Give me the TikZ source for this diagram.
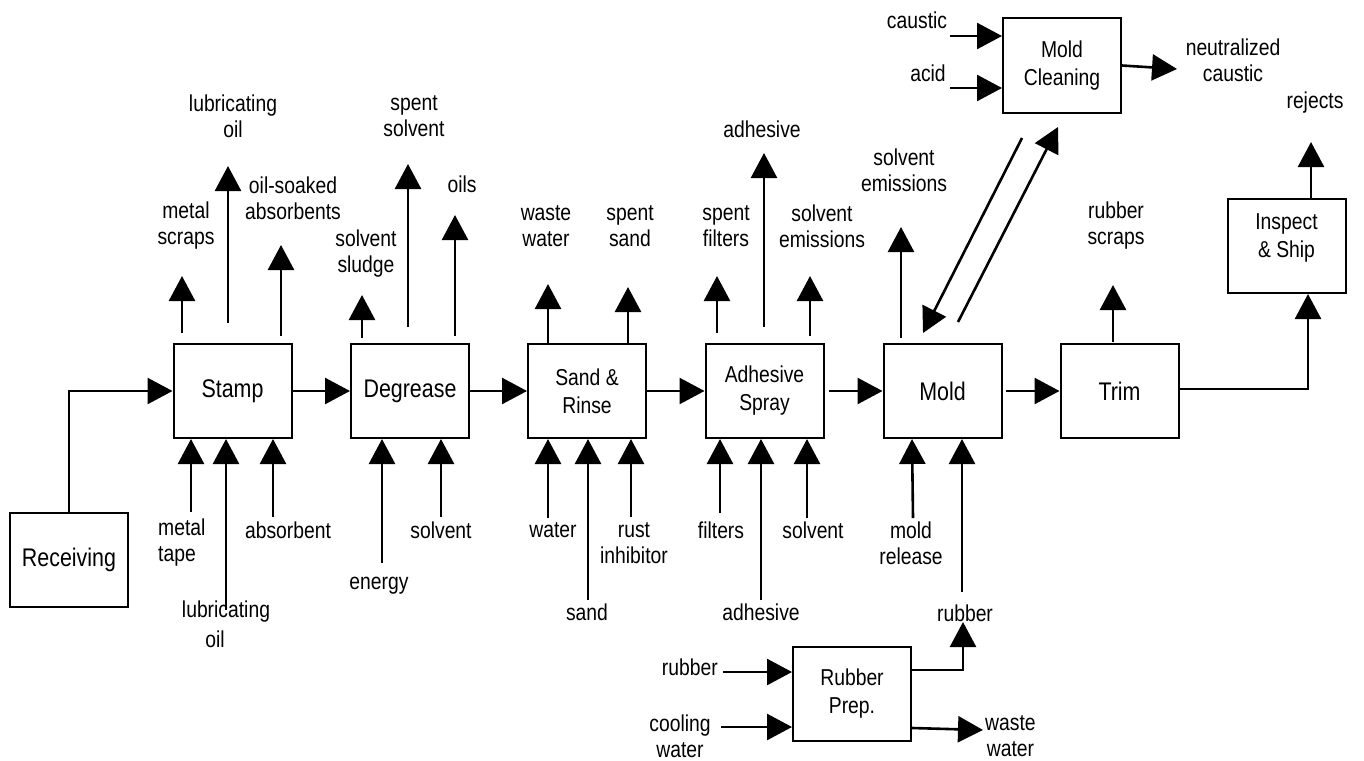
\documentclass[tikz,border=0pt]{standalone}
\usepackage{fontspec}
\setmainfont{Liberation Sans}[FakeStretch=0.84]
\usetikzlibrary{arrows.meta}
\tikzset{
  box/.style={draw, line width=2pt, minimum width=118pt, minimum height=94pt, inner sep=0pt, align=center},
  bigtxt/.style={font=\fontsize{25.5}{28}\selectfont},
  smalltxt/.style={font=\fontsize{23}{28}\selectfont},
  lab/.style={inner sep=0pt, align=center, font=\fontsize{23}{26}\selectfont},
  arr/.style={line width=2.6pt, -{Triangle[width=26pt,length=25pt]}},
  ln/.style={line width=2.6pt}
}
\begin{document}
\begin{tikzpicture}[x=1pt,y=-1pt]
\useasboundingbox (0,0) rectangle (1364,760);
% boxes
\node[box,bigtxt] (rec) at (69,560) {Receiving};
\node[box,bigtxt] (stamp) at (232.5,391) {Stamp};
\node[box,bigtxt] (deg) at (410,391) {Degrease};
\node[box,smalltxt] (sand) at (587,391) {Sand \&\\Rinse};
\node[box,smalltxt] (adh) at (764.5,391) {Adhesive\\Spray};
\node[box,bigtxt] (mold) at (942.5,391) {Mold};
\node[box,bigtxt] (trim) at (1119.5,391) {Trim};
\node[box,smalltxt] (mc) at (1062,65.5) {Mold\\Cleaning};
\node[box] (insp) at (1286.5,246) {};
\node[smalltxt, inner sep=0pt, align=center] (insptxt) at (1286.5,238) {Inspect\\\& Ship};
\node[box,smalltxt] (rp) at (852,694) {Rubber\\Prep.};
% top labels
\node[lab] (lm1) at (186,226) {metal\\scraps};
\node[lab] (lm2) at (233,116) {lubricating\\oil};
\node[lab] (lm3) at (293,198) {oil-soaked\\absorbents};
\node[lab] (ld1) at (366,254) {solvent\\sludge};
\node[lab] (ld2) at (414,116) {spent\\solvent};
\node[lab] (ld3) at (462,184) {oils};
\node[lab] (ls1) at (546,226) {waste\\water};
\node[lab] (ls2) at (630,226) {spent\\sand};
\node[lab] (la1) at (726,226) {spent\\filters};
\node[lab] (la2) at (762,129) {adhesive};
\node[lab] (la3) at (822,226) {solvent\\emissions};
\node[lab] (lmo) at (904,170) {solvent\\emissions};
\node[lab] (ltr) at (1116,226) {rubber\\scraps};
\node[lab] (lcau) at (917,20) {caustic};
\node[lab] (lacid) at (928,73) {acid};
\node[lab] (lneu) at (1233,60) {neutralized\\caustic};
\node[lab] (lrej) at (1315,103) {rejects};
% bottom labels
\node[lab, anchor=west, align=left] (bm1) at (158,543) {metal\\tape};
\node[lab] (bm2) at (226,612) {lubricating};
\node[lab] (bm2b) at (215,639) {oil};
\node[lab] (bm3) at (288,530) {absorbent};
\node[lab] (bd1) at (379,586) {energy};
\node[lab] (bd2) at (441,530) {solvent};
\node[lab] (bs1) at (553,530) {water};
\node[lab] (bs2) at (587,612) {sand};
\node[lab] (bs3) at (634,543) {rust\\inhibitor};
\node[lab] (ba1) at (721,530) {filters};
\node[lab] (ba2) at (761,612) {adhesive};
\node[lab] (ba3) at (813,530) {solvent};
\node[lab] (bmo1) at (911,543) {mold\\release};
\node[lab] (bmo2) at (965,613) {rubber};
\node[lab, anchor=east] (rin) at (718,667) {rubber};
\node[lab] (cw) at (680,736) {cooling\\water};
\node[lab, anchor=west] (ww) at (985,736) {waste\\water};
% top output arrows
\draw[arr] (182,333) -- (182,276);
\draw[arr] (228,323) -- (228,166);
\draw[arr] (281,336) -- (281,245);
\draw[arr] (362,338) -- (362,295);
\draw[arr] (408,327) -- (408,164);
\draw[arr] (455,336) -- (455,215);
\draw[arr] (548,343) -- (548,284);
\draw[arr] (628,343) -- (628,287);
\draw[arr] (717,333) -- (717,276);
\draw[arr] (764,327) -- (764,153);
\draw[arr] (810,336) -- (810,276);
\draw[arr] (901,338) -- (901,227);
\draw[arr] (1113,342) -- (1113,285);
\draw[arr] (insp.north -| 1311,0) -- (1311,142);
% mold <-> mold cleaning
\draw[arr] (1022,138) -- (923,333);
\draw[arr] (958,322) -- (1058,127);
% mold cleaning in/out
\draw[arr] (950,36) -- (mc.west |- 0,36);
\draw[arr] (950,88) -- (mc.west |- 0,88);
\draw[arr] (mc.east) -- (1177,69);
% bottom input arrows
\draw[arr] (191,512) -- (191,439);
\draw[arr] (226,610) -- (226,439);
\draw[arr] (273,517) -- (273,439);
\draw[arr] (382,563) -- (382,439);
\draw[arr] (441,517) -- (441,439);
\draw[arr] (548,518) -- (548,439);
\draw[arr] (588,600) -- (588,439);
\draw[arr] (631,517) -- (631,439);
\draw[arr] (720,513) -- (720,439);
\draw[arr] (761,600) -- (761,439);
\draw[arr] (807,518) -- (807,439);
\draw[arr] (913,518) -- (912,439);
\draw[arr] (962,592) -- (962,439);
% rubber prep
\draw[arr] (912,670) -| (963,622);
\draw[arr] (723,672) -- (792,672);
\draw[arr] (721,727) -- (792,727);
\draw[arr] (912,728) -- (983,730);
% main flow
\draw[arr] (rec.north) |- (stamp.west);
\draw[arr] (stamp.east) -- (deg.west);
\draw[arr] (deg.east) -- (sand.west);
\draw[arr] (sand.east) -- (adh.west);
\draw[arr] ([xshift=4pt]adh.east) -- (mold.west);
\draw[arr] ([xshift=3pt]mold.east) -- (trim.west);
\draw[arr] ([yshift=2pt]trim.east) -| ([xshift=21.5pt]insp.south);
\end{tikzpicture}
\end{document}
